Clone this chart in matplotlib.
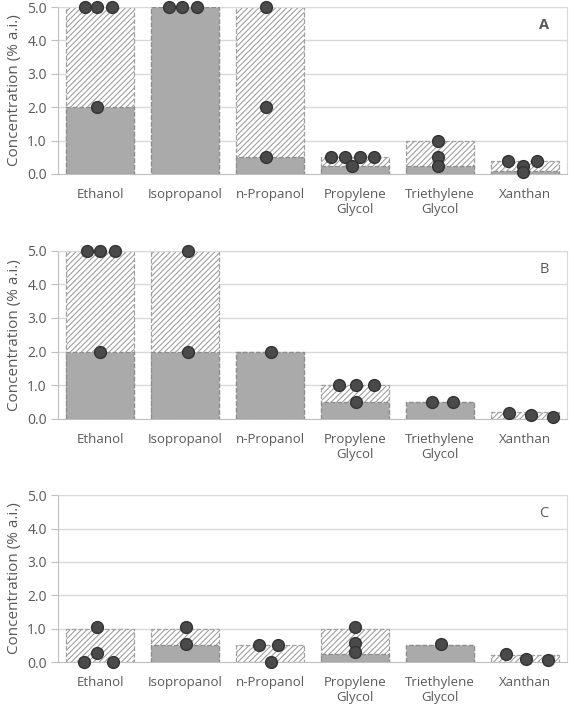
import numpy as np
import matplotlib
matplotlib.use("Agg")
import matplotlib.pyplot as plt

plt.rcParams["font.family"] = ["Open Sans", "DejaVu Sans"]
plt.rcParams["hatch.color"] = "#b5b5b5"
plt.rcParams["hatch.linewidth"] = 0.8

# ===============================
# Data
# ===============================
categorias = ["Ethanol", "Isopropanol", "n-Propanol",
              "Propylene\nGlycol", "Triethylene\nGlycol", "Xanthan"]
paineis = ["A", "B", "C"]

# solid (lower) and hatched (upper) bar heights
inferior_A = [2.0, 5.0, 0.5, 0.25, 0.25, 0.1]
superior_A = [5.0, 5.0, 5.0, 0.5, 1.0, 0.4]
inferior_B = [2.0, 2.0, 2.0, 0.5, 0.5, 0.0]
superior_B = [5.0, 5.0, 2.0, 1.0, 0.5, 0.2]
inferior_C = [0.0, 0.5, 0.0, 0.25, 0.5, 0.0]
superior_C = [1.0, 1.0, 0.5, 1.0, 0.5, 0.2]

# individual points per category
pontos_A = [[5, 5, 5, 2], [5, 5, 5], [5, 2, 0.5],
            [0.5, 0.5, 0.5, 0.5, 0.25], [1.0, 0.5, 0.25], [0.38, 0.25, 0.05, 0.38]]
pontos_B = [[5, 5, 5, 2], [5, 2], [2],
            [1, 1, 1, 0.5], [0.5, 0.5], [0.19, 0.12, 0.05]]
pontos_C = [[1.05, 0.28, 0, 0], [1.05, 0.53], [0.52, 0.52, 0],
            [1.06, 0.57, 0.31], [0.55], [0.25, 0.1, 0.05]]

# horizontal jitter of the points (layout)
desvios_A = [[-0.18, -0.04, 0.14, -0.04], [-0.19, -0.035, 0.14], [-0.05, -0.05, -0.05],
             [-0.28, -0.12, 0.06, 0.22, -0.035], [-0.02, -0.02, -0.02], [-0.2, -0.02, -0.02, 0.14]]
desvios_B = [[-0.16, 0, 0.17, 0], [0.035, 0.035], [0.01],
             [-0.19, 0.01, 0.22, 0.01], [-0.09, 0.15], [-0.18, 0.08, 0.33]]
desvios_C = [[-0.04, -0.04, -0.19, 0.15], [0.01, 0.01], [-0.13, 0.09, 0.01],
             [0, 0, 0], [0.01], [-0.22, 0.02, 0.28]]

dados = [
    (inferior_A, superior_A, pontos_A, desvios_A),
    (inferior_B, superior_B, pontos_B, desvios_B),
    (inferior_C, superior_C, pontos_C, desvios_C),
]

# ===============================
# Figure
# ===============================
fig = plt.figure(figsize=(5.74, 7.10), dpi=100)
posicoes = [
    [0.101, 0.755, 0.887, 0.235],
    [0.101, 0.410, 0.887, 0.237],
    [0.101, 0.0676, 0.887, 0.235],
]
cinza_txt = "#595959"
x = np.arange(len(categorias))

for pos, letra, (inf, sup, pts, dsv) in zip(posicoes, paineis, dados):
    ax = fig.add_axes(pos)
    ax.set_xlim(-0.5, len(categorias) - 0.5)
    ax.set_ylim(0, 5.0)

    for y in np.arange(1, 6):
        ax.axhline(y, color="#d9d9d9", lw=1.0, zorder=0)

    # hatched upper bars
    ax.bar(x, sup, width=0.8, color="white", edgecolor="#a0a0a0",
           hatch="//////", linestyle="--", linewidth=0.9, zorder=2)
    # solid lower bars
    alt = [h if h > 0 else np.nan for h in inf]
    ax.bar(x, alt, width=0.8, color="#aaaaaa", edgecolor="#8c8c8c",
           linestyle="--", linewidth=0.9, zorder=3)

    # points
    for i in range(len(categorias)):
        xs = [x[i] + d for d in dsv[i]]
        ax.plot(xs, pts[i], "o", color="#4a4a4a", markeredgecolor="#333333",
                markersize=8.5, zorder=5, clip_on=False)

    ax.set_xticks(x)
    ax.set_xticklabels(categorias, fontsize=9.5, color=cinza_txt, linespacing=1.25)
    ax.set_yticks(np.arange(0, 5.5, 1.0))
    ax.set_yticklabels([f"{v:.1f}" for v in np.arange(0, 5.5, 1.0)],
                       fontsize=10, color=cinza_txt)
    ax.tick_params(axis="x", length=0, pad=10)
    ax.tick_params(axis="y", length=5, color="#bfbfbf", pad=3)
    ax.set_ylabel("Concentration (% a.i.)", fontsize=11, color=cinza_txt, labelpad=4)

    for lado in ["top", "right"]:
        ax.spines[lado].set_color("#d9d9d9")
    ax.spines["left"].set_color("#bfbfbf")
    ax.spines["bottom"].set_color("#bfbfbf")

    ax.text(0.955, 0.89, letra, transform=ax.transAxes, fontsize=10.5,
            color=cinza_txt, fontweight="bold" if letra == "A" else "normal",
            ha="center", va="center")

fig.savefig("out.png", dpi=100)
